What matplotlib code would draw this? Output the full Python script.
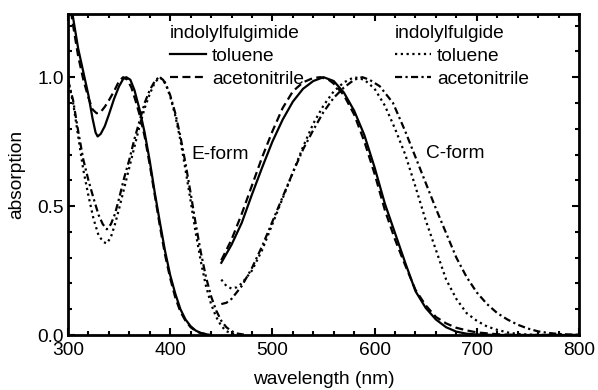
import matplotlib
matplotlib.use("Agg")
import matplotlib.pyplot as plt
from matplotlib.lines import Line2D
from matplotlib.ticker import MultipleLocator

plt.rcParams['font.family'] = ['Liberation Sans', 'DejaVu Sans']
FS = 13.8

# ---- E-form, indolylfulgimide in toluene (solid)
wl_imE_tol = [300, 305, 310, 315, 320, 324, 327, 329, 332, 336, 340, 345, 350, 354, 357, 361, 365,
              370, 375, 380, 385, 390, 395, 400, 405, 410, 415, 420, 425, 430, 435, 440]
ab_imE_tol = [1.36, 1.23, 1.11, 1.02, 0.93, 0.84, 0.785, 0.77, 0.78, 0.81, 0.855, 0.915, 0.965, 0.993, 1.0,
              0.99, 0.95, 0.875, 0.785, 0.675, 0.55, 0.435, 0.325, 0.232, 0.16, 0.10, 0.06, 0.034, 0.017,
              0.008, 0.003, 0.0]
# ---- E-form, indolylfulgimide in acetonitrile (dashed)
wl_imE_acn = [300, 305, 310, 315, 320, 324, 328, 332, 336, 340, 345, 350, 354, 358, 362, 366, 370,
              375, 380, 385, 390, 395, 400, 405, 410, 415, 420, 425, 430, 440]
ab_imE_acn = [1.33, 1.20, 1.08, 0.99, 0.92, 0.875, 0.86, 0.865, 0.885, 0.91, 0.945, 0.985, 1.0, 0.99,
              0.96, 0.91, 0.855, 0.77, 0.66, 0.54, 0.42, 0.31, 0.22, 0.145, 0.09, 0.055, 0.03, 0.015,
              0.007, 0.0]
# ---- E-form, indolylfulgide in toluene (dotted)
wl_gE_tol = [300, 305, 310, 315, 320, 325, 330, 335, 338, 342, 346, 350, 355, 360, 365, 370, 375, 380,
             385, 390, 395, 400, 405, 410, 415, 420, 425, 430, 435, 440, 445, 450, 455, 460, 470]
ab_gE_tol = [0.99, 0.90, 0.77, 0.64, 0.54, 0.45, 0.385, 0.36, 0.355, 0.38, 0.43, 0.49, 0.57, 0.65, 0.73,
             0.81, 0.88, 0.935, 0.98, 1.0, 0.98, 0.925, 0.85, 0.755, 0.64, 0.52, 0.395, 0.285, 0.19,
             0.12, 0.07, 0.035, 0.015, 0.005, 0.0]
# ---- E-form, indolylfulgide in acetonitrile (dash-dot)
wl_gE_acn = [300, 305, 310, 315, 320, 325, 330, 334, 338, 342, 346, 350, 355, 360, 365, 370, 375, 380,
             385, 389, 393, 397, 400, 405, 410, 415, 420, 425, 430, 435, 440, 445, 450, 455, 460, 465, 475]
ab_gE_acn = [0.99, 0.91, 0.79, 0.68, 0.60, 0.53, 0.465, 0.43, 0.41, 0.43, 0.47, 0.53, 0.61, 0.68, 0.76,
             0.83, 0.90, 0.95, 0.985, 1.0, 0.99, 0.96, 0.93, 0.86, 0.77, 0.665, 0.55, 0.43, 0.32, 0.225,
             0.15, 0.095, 0.055, 0.03, 0.015, 0.006, 0.0]

# ---- C-form, indolylfulgimide in toluene (solid)
wl_imC_tol = [450, 455, 460, 470, 480, 490, 500, 510, 520, 530, 540, 550, 560, 570, 580, 590, 600, 610,
              620, 630, 640, 650, 660, 670, 680, 690, 700, 720, 800]
ab_imC_tol = [0.28, 0.315, 0.35, 0.435, 0.545, 0.65, 0.75, 0.835, 0.905, 0.955, 0.985, 1.0, 0.985, 0.94,
              0.87, 0.775, 0.65, 0.51, 0.395, 0.28, 0.17, 0.105, 0.06, 0.03, 0.013, 0.005, 0.002, 0.0, 0.0]
# ---- C-form, indolylfulgimide in acetonitrile (dashed)
wl_imC_acn = [450, 455, 460, 470, 480, 490, 500, 510, 520, 530, 540, 547, 555, 560, 570, 580, 590, 600,
              610, 620, 630, 640, 650, 660, 670, 680, 690, 700, 720, 740, 800]
ab_imC_acn = [0.29, 0.33, 0.37, 0.47, 0.58, 0.69, 0.79, 0.88, 0.945, 0.98, 0.997, 1.0, 0.99, 0.975, 0.93,
              0.855, 0.75, 0.625, 0.485, 0.37, 0.27, 0.175, 0.115, 0.07, 0.045, 0.028, 0.018, 0.01,
              0.003, 0.0, 0.0]
# ---- C-form, indolylfulgide in toluene (dotted)
wl_gC_tol = [450, 455, 460, 465, 470, 480, 490, 500, 510, 520, 530, 540, 550, 560, 570, 580, 590, 600,
             610, 620, 630, 640, 650, 660, 670, 680, 690, 700, 710, 720, 730, 740, 760, 800]
ab_gC_tol = [0.215, 0.19, 0.18, 0.185, 0.2, 0.25, 0.33, 0.43, 0.53, 0.63, 0.73, 0.82, 0.89, 0.945, 0.98,
             1.0, 0.99, 0.955, 0.89, 0.8, 0.7, 0.575, 0.445, 0.33, 0.215, 0.14, 0.085, 0.055, 0.033,
             0.02, 0.01, 0.004, 0.0, 0.0]
# ---- C-form, indolylfulgide in acetonitrile (dash-dot)
wl_gC_acn = [450, 455, 460, 470, 480, 490, 500, 510, 520, 530, 540, 550, 560, 570, 580, 588, 595, 605,
             618, 630, 640, 650, 660, 670, 680, 690, 700, 710, 720, 730, 740, 750, 760, 770, 780, 790, 800]
ab_gC_acn = [0.12, 0.125, 0.14, 0.19, 0.26, 0.345, 0.44, 0.535, 0.63, 0.72, 0.795, 0.865, 0.92, 0.96,
             0.99, 1.0, 0.99, 0.965, 0.9, 0.79, 0.69, 0.59, 0.49, 0.395, 0.3, 0.225, 0.165, 0.12, 0.085,
             0.06, 0.04, 0.025, 0.014, 0.008, 0.004, 0.002, 0.001]

x_ticks = [300, 400, 500, 600, 700, 800]
y_ticks = [0.0, 0.5, 1.0]

LW = 1.6
st_solid = dict(color='black', lw=LW, linestyle='-')
st_dash = dict(color='black', lw=LW, linestyle=(0, (3.6, 2.0)))
st_dot = dict(color='black', lw=LW, linestyle=(0, (1, 1.6)))
st_dashdot = dict(color='black', lw=LW, linestyle=(0, (3.2, 1.5, 1, 1.5)))

fig = plt.figure(figsize=(5.98, 3.90), dpi=100)
ax = fig.add_axes([68/598, (390-335)/390, (579-68)/598, (335-14)/390])

ax.plot(wl_imE_tol, ab_imE_tol, **st_solid)
ax.plot(wl_imE_acn, ab_imE_acn, **st_dash)
ax.plot(wl_gE_tol, ab_gE_tol, **st_dot)
ax.plot(wl_gE_acn, ab_gE_acn, **st_dashdot)
ax.plot(wl_imC_tol, ab_imC_tol, **st_solid)
ax.plot(wl_imC_acn, ab_imC_acn, **st_dash)
ax.plot(wl_gC_tol, ab_gC_tol, **st_dot)
ax.plot(wl_gC_acn, ab_gC_acn, **st_dashdot)

ax.set_xlim(300, 800)
ax.set_ylim(0, 1.245)
ax.set_xticks(x_ticks)
ax.set_xticklabels([str(v) for v in x_ticks])
ax.set_yticks(y_ticks)
ax.set_yticklabels([f"{v:.1f}" for v in y_ticks])
ax.xaxis.set_minor_locator(MultipleLocator(20))
ax.yaxis.set_minor_locator(MultipleLocator(0.1))
ax.tick_params(which='both', direction='in', top=True, right=True, width=1.5, labelsize=FS)
ax.tick_params(which='major', length=5)
ax.tick_params(axis='x', which='major', pad=5)
ax.tick_params(axis='y', which='major', pad=3)
ax.tick_params(which='minor', length=3)
for s in ax.spines.values():
    s.set_linewidth(2.0)

ax.set_xlabel("wavelength (nm)", fontsize=FS, labelpad=9)
ax.set_ylabel("absorption", fontsize=FS, labelpad=9)

ax.text(421, 0.70, "E-form", fontsize=FS, va='center', ha='left')
ax.text(650, 0.705, "C-form", fontsize=FS, va='center', ha='left')

h1 = [Line2D([], [], **st_solid), Line2D([], [], **st_dash)]
h2 = [Line2D([], [], **st_dot), Line2D([], [], **st_dashdot)]
leg_kw = dict(frameon=False, fontsize=FS, title_fontsize=FS, alignment='left', loc='upper left',
              borderpad=0, borderaxespad=0, handlelength=1.9, handletextpad=0.3, labelspacing=0.3)
leg1 = ax.legend(h1, ["toluene", "acetonitrile"], title="indolylfulgimide",
                 bbox_to_anchor=(170/598, (390-25)/390), bbox_transform=fig.transFigure, **leg_kw)
ax.add_artist(leg1)
leg2 = ax.legend(h2, ["toluene", "acetonitrile"], title="indolylfulgide",
                 bbox_to_anchor=(395/598, (390-25)/390), bbox_transform=fig.transFigure, **leg_kw)
for lg in (leg1, leg2):
    lg._legend_box.sep = 4

fig.savefig("out.png", dpi=100)
